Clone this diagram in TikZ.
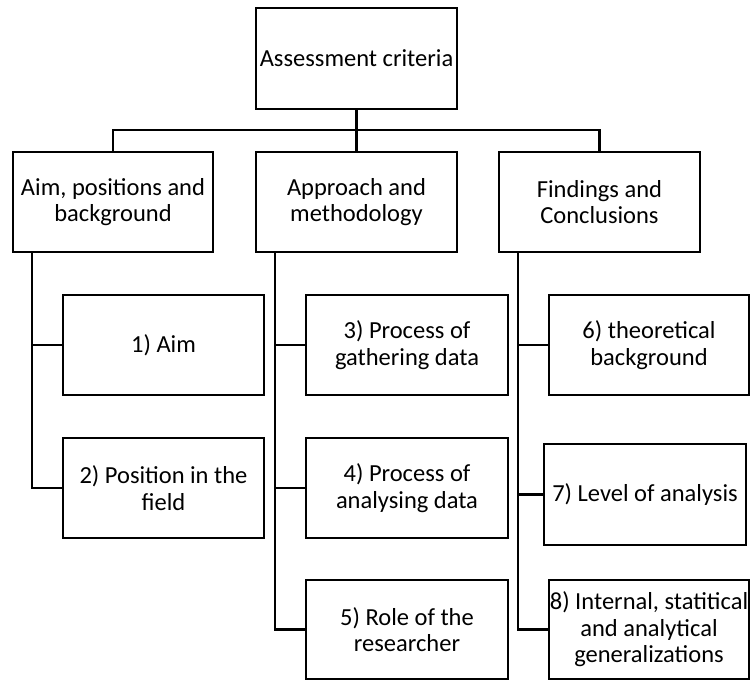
\documentclass[tikz,border=0pt]{standalone}
\usepackage{fontspec}
\setmainfont{Carlito}
\begin{document}
\begin{tikzpicture}[x=1pt,y=1pt,
  box/.style={draw=black,line width=2.4pt,fill=white,inner sep=1pt,align=center,
    font=\fontsize{24.5}{26.5}\selectfont,text=black},
  conn/.style={draw=black,line width=2.4pt}]
\useasboundingbox (0,0) rectangle (750,-680);
% level 0
\node[box,minimum width=201pt,minimum height=101pt] (top) at (356.5,-58.5) {Assessment criteria};
% level 1
\node[box,minimum width=200pt,minimum height=100pt] (A) at (113,-202) {Aim, positions and\\background};
\node[box,minimum width=201pt,minimum height=100pt] (B) at (356.5,-202) {Approach and\\methodology};
\node[box,minimum width=201pt,minimum height=100pt] (C) at (599.5,-202) {Findings and\\Conclusions};
% level 2
\node[box,minimum width=201pt,minimum height=100pt] (n1) at (163.5,-345) {1) Aim};
\node[box,minimum width=201pt,minimum height=100pt] (n2) at (163.5,-488) {2) Position in the\\field};
\node[box,minimum width=202pt,minimum height=100pt] (n3) at (407,-345) {3) Process of\\gathering data};
\node[box,minimum width=202pt,minimum height=100pt] (n4) at (407,-488) {4) Process of\\analysing data};
\node[box,minimum width=202pt,minimum height=99pt] (n5) at (407,-629.5) {5) Role of the\\researcher};
\node[box,minimum width=200pt,minimum height=100pt] (n6) at (649,-345) {6) theoretical\\background};
\node[box,minimum width=202pt,minimum height=101pt] (n7) at (645,-494.5) {7) Level of analysis};
\node[box,minimum width=200pt,minimum height=99pt,inner sep=0pt] (n8) at (649,-629.5) {8) Internal, statitical\\and analytical\\generalizations};
% connectors
\draw[conn] (top.south) -- (B.north);
\draw[conn] (A.north) -- ++(0,21) -| (C.north);
\coordinate (sA) at ([xshift=20pt]A.south west);
\coordinate (sB) at ([xshift=20pt]B.south west);
\coordinate (sC) at ([xshift=20pt]C.south west);
\draw[conn] (sA) |- (n1.west);
\draw[conn] (sA) |- (n2.west);
\draw[conn] (sB) |- (n3.west);
\draw[conn] (sB) |- (n4.west);
\draw[conn] (sB) |- (n5.west);
\draw[conn] (sC) |- (n6.west);
\draw[conn] (sC) |- (n7.west);
\draw[conn] (sC) |- (n8.west);
\end{tikzpicture}
\end{document}
